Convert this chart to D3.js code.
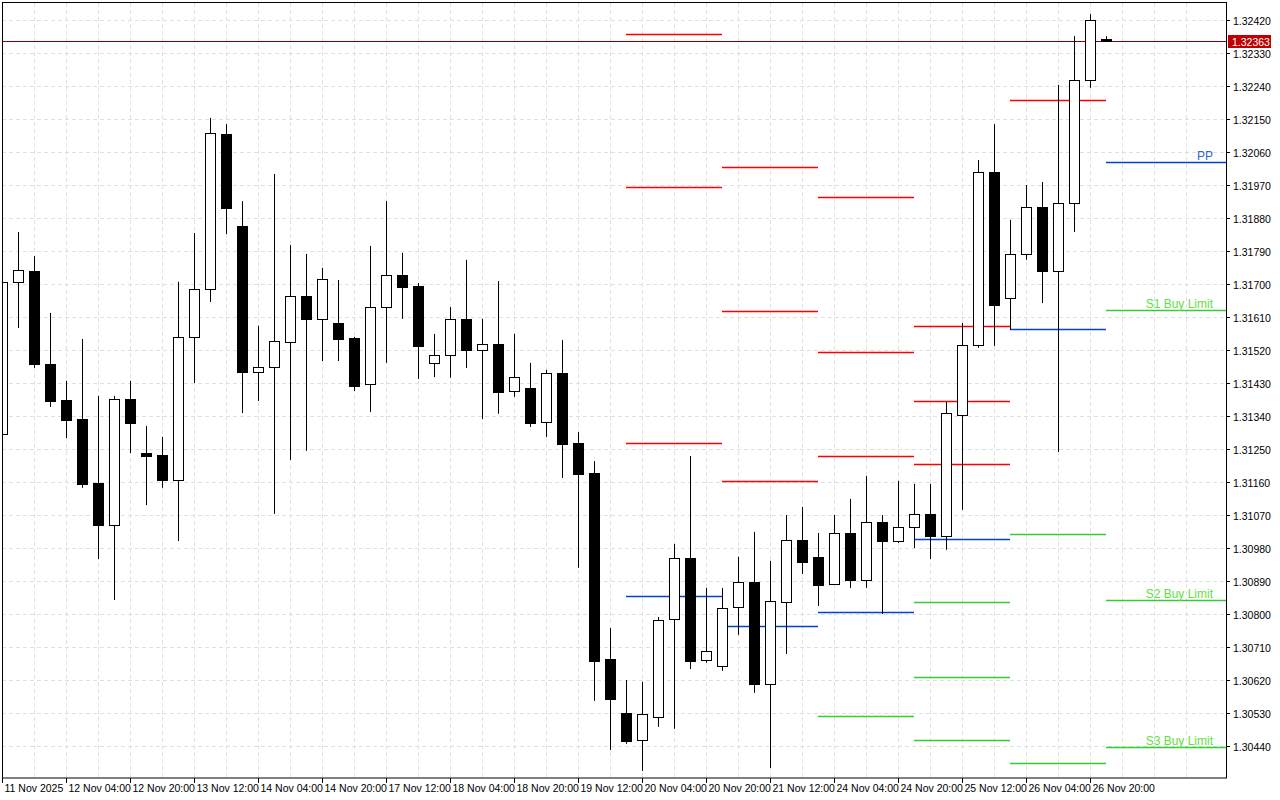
<!DOCTYPE html>
<html>
<head>
<meta charset="utf-8">
<script src="https://cdn.jsdelivr.net/npm/d3@7"></script>
<style>
  body { margin: 0; background: #fff; }
  svg text { font-family: "Liberation Sans", Arial, sans-serif; font-size: 10.5px; }
</style>
</head>
<body>
<svg id="chart" width="1280" height="800"></svg>
<script>
// 4H candles, GBPUSD-like quotes
const opens  = [1.31291,1.31706,1.31736,1.31482,1.31384,1.31332,1.31157,1.31043,1.31386,1.31239,1.31234,1.31166,1.31556,1.31686,1.32109,1.31858,1.31460,1.31474,1.31542,1.31667,1.31605,1.31594,1.31553,1.31427,1.31637,1.31725,1.31695,1.31485,1.31506,1.31605,1.31520,1.31536,1.31408,1.31416,1.31324,1.31457,1.31266,1.31185,1.30677,1.30530,1.30457,1.30519,1.30787,1.30953,1.30675,1.30658,1.30819,1.30887,1.30609,1.30833,1.31002,1.30956,1.30882,1.31021,1.30893,1.31051,1.30999,1.31037,1.31073,1.31013,1.31343,1.31534,1.32005,1.31662,1.31782,1.31910,1.31736,1.31921,1.32256,1.32368];
const highs  = [1.31711,1.31842,1.31776,1.31621,1.31436,1.31550,1.31395,1.31395,1.31436,1.31313,1.31283,1.31706,1.31839,1.32153,1.32136,1.31926,1.31586,1.32000,1.31806,1.31782,1.31744,1.31711,1.31556,1.31804,1.31926,1.31785,1.31703,1.31564,1.31637,1.31766,1.31605,1.31708,1.31564,1.31485,1.31466,1.31547,1.31296,1.31217,1.30762,1.30620,1.30615,1.30792,1.30991,1.31231,1.30871,1.30871,1.30956,1.31024,1.30945,1.31070,1.31092,1.31021,1.31070,1.31114,1.31176,1.31070,1.31163,1.31155,1.31155,1.31378,1.31594,1.32038,1.32136,1.31875,1.31970,1.31978,1.32243,1.32376,1.32436,1.32376];
const lows   = [1.31286,1.31580,1.31471,1.31365,1.31280,1.31144,1.30950,1.30838,1.31239,1.31097,1.31144,1.30999,1.31430,1.31651,1.31836,1.31348,1.31381,1.31073,1.31220,1.31245,1.31490,1.31490,1.31408,1.31351,1.31485,1.31605,1.31441,1.31446,1.31444,1.31471,1.31332,1.31346,1.31392,1.31310,1.31283,1.31171,1.30926,1.30563,1.30429,1.30446,1.30372,1.30492,1.30487,1.30650,1.30667,1.30645,1.30743,1.30585,1.30380,1.30691,1.30909,1.30822,1.30882,1.30871,1.30871,1.30800,1.30994,1.30980,1.30950,1.30975,1.31084,1.31526,1.31531,1.31575,1.31766,1.31648,1.31242,1.31842,1.32235,1.32363];
const closes = [1.31706,1.31738,1.31482,1.31381,1.31329,1.31155,1.31043,1.31386,1.31321,1.31231,1.31166,1.31556,1.31686,1.32112,1.31907,1.31460,1.31474,1.31545,1.31667,1.31605,1.31714,1.31550,1.31422,1.31637,1.31725,1.31692,1.31531,1.31506,1.31605,1.31520,1.31536,1.31406,1.31446,1.31321,1.31457,1.31264,1.31182,1.30672,1.30568,1.30454,1.30527,1.30784,1.30953,1.30672,1.30699,1.30817,1.30887,1.30609,1.30836,1.31002,1.30942,1.30879,1.31021,1.30893,1.31051,1.30999,1.31037,1.31073,1.31013,1.31348,1.31534,1.32005,1.31643,1.31782,1.31910,1.31736,1.31921,1.32256,1.32420,1.32363];

const timeLabels = ["11 Nov 2025","12 Nov 04:00","12 Nov 20:00","13 Nov 12:00","14 Nov 04:00","14 Nov 20:00","17 Nov 12:00","18 Nov 04:00","18 Nov 20:00","19 Nov 12:00","20 Nov 04:00","20 Nov 20:00","21 Nov 12:00","24 Nov 04:00","24 Nov 20:00","25 Nov 12:00","26 Nov 04:00","26 Nov 20:00"];
const priceTicks = [1.32420,1.32330,1.32240,1.32150,1.32060,1.31970,1.31880,1.31790,1.31700,1.31610,1.31520,1.31430,1.31340,1.31250,1.31160,1.31070,1.30980,1.30890,1.30800,1.30710,1.30620,1.30530,1.30440];
const lastPrice = 1.32363;

// daily pivot levels: start candle, end candle, kind, price
const levelStart = [39,39,39,39, 45,45,45,45, 51,51,51,51,51, 57,57,57,57,57,57,57, 63,63,63,63, 69,69,69,69];
const levelEnd   = [45,45,45,45, 51,51,51,51, 57,57,57,57,57, 63,63,63,63,63,63,63, 69,69,69,69, 76.5,76.5,76.5,76.5];
const levelKind  = ["r","r","r","p", "r","r","r","p", "r","r","r","p","s", "r","r","r","p","s","s","s", "r","p","s","s", "p","s","s","s"];
const levelPrice = [1.32382,1.31965,1.31266,1.30849, 1.32019,1.31626,1.31163,1.30767, 1.31937,1.31515,1.31231,1.30806,1.30522, 1.31586,1.31381,1.31209,1.31005,1.30833,1.30628,1.30457, 1.32202,1.31577,1.31018,1.30394, 1.32033,1.31629,1.30838,1.30437];
const levelText  = {24:"PP",25:"S1 Buy Limit",26:"S2 Buy Limit",27:"S3 Buy Limit"};

const plotLeft = 2, plotRight = 1226, plotTop = 3, plotBottom = 778;
const svg = d3.select("#chart");

const x = d3.scaleLinear().domain([0, 1]).range([2, 18]);
const y = d3.scaleLinear().domain([1.30440, 1.32420]).range([746, 20]);
const kindColor = {r: "#ff0000", p: "#0044cc", s: "#33cc33"};

// grid
const g = svg.append("g");
g.selectAll("line.hg").data(priceTicks).enter().append("line")
  .attr("x1", plotLeft).attr("x2", plotRight)
  .attr("y1", d => Math.round(y(d)) + 0.5).attr("y2", d => Math.round(y(d)) + 0.5)
  .attr("stroke", "#e0e0e0").attr("stroke-dasharray", "4,3");
g.selectAll("line.vg").data(d3.range(2, 76, 2)).enter().append("line")
  .attr("x1", d => x(d) + 0.5).attr("x2", d => x(d) + 0.5)
  .attr("y1", plotTop).attr("y2", plotBottom)
  .attr("stroke", "#e0e0e0").attr("stroke-dasharray", "4,3");

// pivot levels
levelPrice.forEach((p, i) => {
  const yy = Math.round(y(p)) + 0.5;
  svg.append("line")
    .attr("x1", x(levelStart[i])).attr("x2", Math.min(x(levelEnd[i]), plotRight))
    .attr("y1", yy).attr("y2", yy)
    .attr("stroke", kindColor[levelKind[i]]).attr("stroke-width", 1.3);
  if (levelText[i]) {
    svg.append("text").attr("x", 1213).attr("y", yy - 3)
      .attr("text-anchor", "end").style("font-size", "12px")
      .attr("fill", levelKind[i] === "p" ? "#3366cc" : "#66dd44")
      .text(levelText[i]);
  }
});

// current price line
const yl = Math.round(y(lastPrice)) + 0.5;
svg.append("line").attr("x1", plotLeft).attr("x2", plotRight).attr("y1", yl).attr("y2", yl)
  .attr("stroke", "#8a0000").attr("stroke-width", 1);

// candles
const candles = d3.range(opens.length);
const cg = svg.append("g");
cg.selectAll("line.wick").data(candles).enter().append("line")
  .attr("x1", i => x(i) + 0.5).attr("x2", i => x(i) + 0.5)
  .attr("y1", i => y(highs[i])).attr("y2", i => y(lows[i]))
  .attr("stroke", "#000").attr("stroke-width", 1);
cg.selectAll("rect").data(candles).enter().append("rect")
  .attr("x", i => x(i) - 4.5)
  .attr("width", 10)
  .attr("y", i => Math.round(y(Math.max(opens[i], closes[i]))) + 0.5)
  .attr("height", i => Math.max(1, Math.round(Math.abs(y(opens[i]) - y(closes[i])))))
  .attr("fill", i => closes[i] >= opens[i] ? "#fff" : "#000")
  .attr("stroke", "#000").attr("stroke-width", 1);

// frame (clip the partial first candle)
svg.append("rect").attr("x", 0).attr("y", 0).attr("width", plotLeft).attr("height", 800).attr("fill", "#fff");
svg.append("rect").attr("x", plotRight).attr("y", 0).attr("width", 54).attr("height", 800).attr("fill", "#fff");
svg.append("rect").attr("x", 0).attr("y", plotBottom).attr("width", 1280).attr("height", 22).attr("fill", "#fff");
svg.append("rect").attr("x", plotLeft + 0.5).attr("y", plotTop - 0.5).attr("width", plotRight - plotLeft).attr("height", plotBottom - plotTop + 0.5)
  .attr("fill", "none").attr("stroke", "#000");

// price axis
const ya = svg.append("g");
priceTicks.forEach(p => {
  const yy = Math.round(y(p)) + 0.5;
  ya.append("line").attr("x1", plotRight).attr("x2", plotRight + 4).attr("y1", yy).attr("y2", yy).attr("stroke", "#000");
  ya.append("text").attr("x", plotRight + 7).attr("y", yy + 4).attr("fill", "#000").text(p.toFixed(5));
});
svg.append("rect").attr("x", plotRight + 2).attr("y", yl - 6.5).attr("width", 43).attr("height", 13).attr("fill", "#c00000");
svg.append("text").attr("x", plotRight + 6).attr("y", yl + 4).attr("fill", "#fff").text(lastPrice.toFixed(5));

// time axis
timeLabels.forEach((t, k) => {
  const xx = x(k * 4) + 0.5;
  svg.append("line").attr("x1", xx).attr("x2", xx).attr("y1", plotBottom).attr("y2", plotBottom + 5).attr("stroke", "#000");
  svg.append("text").attr("x", xx + 2).attr("y", plotBottom + 14).attr("fill", "#000").text(t);
});
</script>
</body>
</html>
